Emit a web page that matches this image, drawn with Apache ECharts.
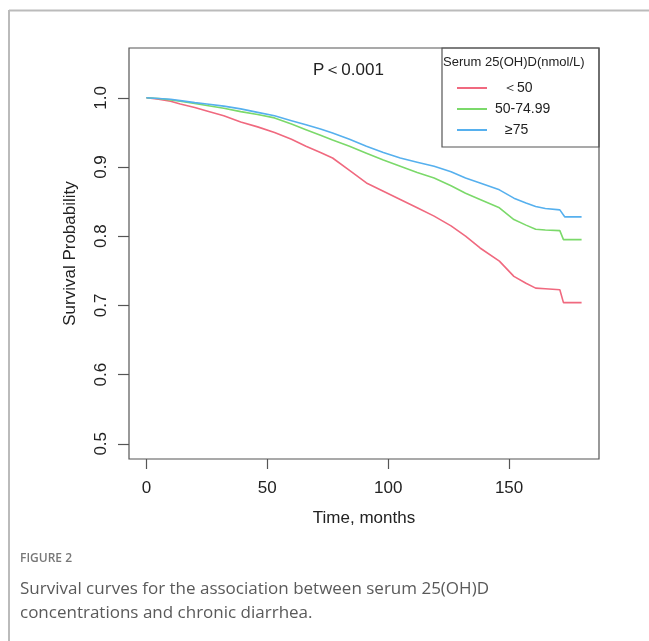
<!DOCTYPE html>
<html>
<head>
<meta charset="utf-8">
<script src="https://cdn.jsdelivr.net/npm/echarts@6/dist/echarts.min.js"></script>
<style>
  html, body { margin: 0; padding: 0; background: #fff; }
  #chart { width: 649px; height: 641px; }
</style>
</head>
<body>
<div id="chart"></div>
<script>
// follow-up time (months) and survival for each 25(OH)D group
const timeLow = [0, 5, 10, 14, 20, 25, 32, 39, 46, 53, 60, 66, 72, 77, 84, 91, 98, 105, 112, 119, 126, 132, 138, 146, 152, 157, 161, 165, 171, 172.5, 180]
const survLow = [1.0, 0.998, 0.995, 0.991, 0.986, 0.981, 0.974, 0.965, 0.958, 0.950, 0.940, 0.930, 0.921, 0.913, 0.895, 0.877, 0.865, 0.853, 0.841, 0.829, 0.815, 0.800, 0.783, 0.764, 0.742, 0.732, 0.725, 0.724, 0.7225, 0.704, 0.704]

const timeMid = [0, 5, 10, 14, 20, 25, 32, 39, 46, 53, 60, 66, 72, 77, 84, 91, 98, 105, 112, 119, 126, 132, 138, 146, 152, 157, 161, 165, 171, 172.5, 180]
const survMid = [1.0, 0.999, 0.997, 0.995, 0.992, 0.989, 0.985, 0.980, 0.976, 0.971, 0.962, 0.954, 0.946, 0.939, 0.930, 0.920, 0.910, 0.901, 0.892, 0.884, 0.873, 0.862, 0.853, 0.841, 0.824, 0.816, 0.810, 0.809, 0.808, 0.795, 0.795]

const timeHigh = [0, 5, 10, 14, 20, 25, 32, 39, 46, 53, 60, 66, 72, 77, 84, 91, 98, 105, 112, 119, 126, 132, 138, 146, 152, 157, 161, 165, 171, 173, 180]
const survHigh = [1.0, 0.999, 0.998, 0.996, 0.993, 0.991, 0.988, 0.984, 0.979, 0.974, 0.967, 0.961, 0.955, 0.949, 0.940, 0.930, 0.921, 0.913, 0.907, 0.901, 0.893, 0.884, 0.877, 0.867, 0.855, 0.848, 0.843, 0.840, 0.838, 0.828, 0.828]

const groupNames = ['＜50', '50-74.99', '≥75']
const xTicks = [0, 50, 100, 150]
const yTicks = [0.5, 0.6, 0.7, 0.8, 0.9, 1.0]

const colors = ['#f0697f', '#7bd96a', '#56b0ee']
const font = 'Liberation Sans, Arial, sans-serif'

const pairs = (t, s) => t.map((v, i) => [v, s[i]])

const chart = echarts.init(document.getElementById('chart'))
chart.setOption({
  animation: false,
  grid: {
    left: 129, top: 48, width: 470, height: 411,
    show: true, borderColor: '#555', borderWidth: 1.2, backgroundColor: 'transparent'
  },
  xAxis: {
    type: 'value', min: -7.2, max: 187.2,
    name: 'Time, months', nameLocation: 'middle', nameGap: 51,
    nameTextStyle: { fontSize: 17, color: '#222', fontFamily: font },
    axisLine: { show: false, onZero: false },
    splitLine: { show: false },
    axisTick: { show: true, length: 10, customValues: xTicks, lineStyle: { color: '#555', width: 1.2 } },
    axisLabel: { customValues: xTicks, fontSize: 17, color: '#222', margin: 21, fontFamily: font }
  },
  yAxis: {
    type: 'value', min: 0.478, max: 1.072,
    name: 'Survival Probability', nameLocation: 'middle', nameGap: 50, nameRotate: 90,
    nameTextStyle: { fontSize: 17, color: '#222', fontFamily: font },
    axisLine: { show: false, onZero: false },
    splitLine: { show: false },
    axisTick: { show: true, length: 11, customValues: yTicks, lineStyle: { color: '#555', width: 1.2 } },
    axisLabel: {
      customValues: yTicks, rotate: 90, fontSize: 17, color: '#222', margin: 19, fontFamily: font,
      formatter: v => v.toFixed(1)
    }
  },
  legend: {
    orient: 'vertical', left: 457, top: 80, padding: 0,
    itemWidth: 30, itemHeight: 2, itemGap: 5, icon: 'rect',
    textStyle: { fontSize: 14, color: '#222', lineHeight: 16, fontFamily: font },
    data: [
      { name: groupNames[0], textStyle: { padding: [0, 0, 0, 11] } },
      { name: groupNames[1], textStyle: { padding: [0, 0, 0, 3] } },
      { name: groupNames[2], textStyle: { padding: [0, 0, 0, 13] } }
    ]
  },
  graphic: [
    { type: 'line', shape: { x1: 9, y1: 10.5, x2: 649, y2: 10.5 }, style: { stroke: '#bbb', lineWidth: 2 } },
    { type: 'line', shape: { x1: 9, y1: 10, x2: 9, y2: 641 }, style: { stroke: '#bbb', lineWidth: 2 } },
    { type: 'rect', shape: { x: 442, y: 48, width: 157, height: 99 }, style: { fill: 'none', stroke: '#555', lineWidth: 1.2 } },
    { type: 'text', left: 443, top: 56, style: { text: 'Serum 25(OH)D(nmol/L)', font: '13px ' + font, fill: '#222' } },
    { type: 'text', left: 313, top: 62, style: { text: 'P＜0.001', font: '17px ' + font, fill: '#222' } },
    { type: 'text', left: 20, top: 553, style: { text: 'FIGURE 2', font: '600 12px "Open Sans", sans-serif', fill: '#777' } },
    { type: 'text', left: 20, top: 577, style: { text: 'Survival curves for the association between serum 25(OH)D\nconcentrations and chronic diarrhea.', font: '17px "Open Sans", sans-serif', fill: '#5a5a5a', lineHeight: 24 } }
  ],
  series: [
    { name: groupNames[0], type: 'line', data: pairs(timeLow, survLow), showSymbol: false, symbol: 'none', lineStyle: { width: 1.6, color: colors[0] }, itemStyle: { color: colors[0] } },
    { name: groupNames[1], type: 'line', data: pairs(timeMid, survMid), showSymbol: false, symbol: 'none', lineStyle: { width: 1.6, color: colors[1] }, itemStyle: { color: colors[1] } },
    { name: groupNames[2], type: 'line', data: pairs(timeHigh, survHigh), showSymbol: false, symbol: 'none', lineStyle: { width: 1.6, color: colors[2] }, itemStyle: { color: colors[2] } }
  ]
})
</script>
</body>
</html>
